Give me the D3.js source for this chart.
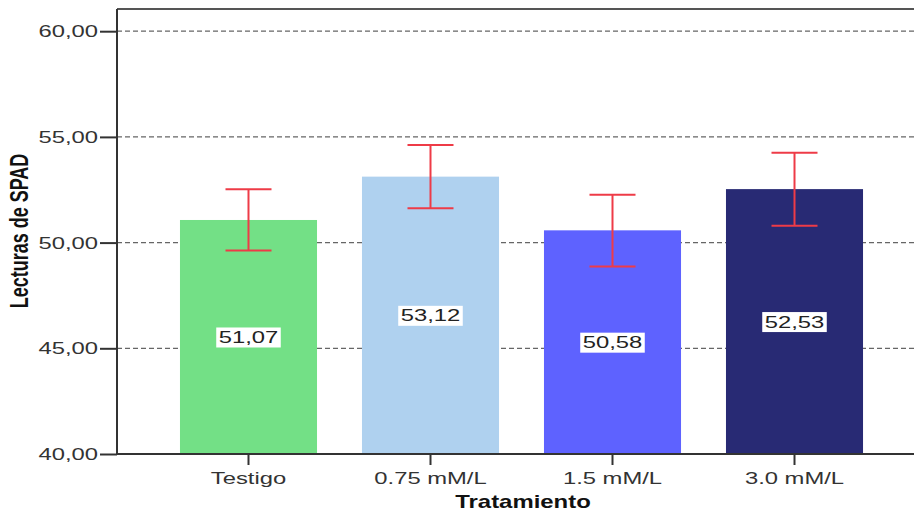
<!DOCTYPE html>
<html>
<head>
<meta charset="utf-8">
<script src="https://cdn.jsdelivr.net/npm/d3@7"></script>
<style>
  html, body { margin: 0; padding: 0; background: #fff; }
  svg { display: block; font-family: "Liberation Sans", Arial, sans-serif; }
</style>
</head>
<body>
<svg id="chart" width="914" height="513"></svg>
<script>
const categories = ["Testigo", "0.75 mM/L", "1.5 mM/L", "3.0 mM/L"];
const means = [51.07, 53.12, 50.58, 52.53];
const lowerCI = [49.63, 51.62, 48.87, 50.80];
const upperCI = [52.52, 54.62, 52.26, 54.25];
const barColors = ["#73E086", "#AFD1EF", "#5E62FF", "#282A74"];
const yTicks = [40, 45, 50, 55, 60];
const yDomain = [40, 61.05];
const yTitle = "Lecturas de SPAD";
const xTitle = "Tratamiento";

(function () {
const SX = 1.4; // horizontal stretch of the reference image text
const fmt = v => d3.format(".2f")(v).replace(".", ",");

const svg = d3.select("#chart");
const pLeft = 117, pRight = 926, pTop = 9, pBottom = 454;

const x = d3.scaleBand().domain(categories).range([pLeft, pRight])
  .paddingInner(0.247).paddingOuter(0.346);
const y = d3.scaleLinear().domain(yDomain).range([pBottom, pTop]);

// gridlines
svg.append("g").selectAll("line").data(yTicks.filter(t => t > 40)).join("line")
  .attr("x1", pLeft).attr("x2", 914)
  .attr("y1", d => y(d)).attr("y2", d => y(d))
  .attr("stroke", "#666").attr("stroke-width", 1.3)
  .attr("stroke-dasharray", "5,3");

// top border
svg.append("line").attr("x1", pLeft).attr("x2", 914).attr("y1", pTop).attr("y2", pTop)
  .attr("stroke", "#555").attr("stroke-width", 2);

// bars
svg.append("g").selectAll("rect").data(categories).join("rect")
  .attr("x", d => x(d)).attr("width", x.bandwidth())
  .attr("y", (d, i) => y(means[i]))
  .attr("height", (d, i) => pBottom - y(means[i]))
  .attr("fill", (d, i) => barColors[i]);

// error bars
const eb = svg.append("g").attr("stroke", "#EE3B47").attr("stroke-width", 2);
categories.forEach((c, i) => {
  const cx = x(c) + x.bandwidth() / 2;
  eb.append("line").attr("x1", cx).attr("x2", cx).attr("y1", y(upperCI[i])).attr("y2", y(lowerCI[i]));
  eb.append("line").attr("x1", cx - 23).attr("x2", cx + 23).attr("y1", y(upperCI[i])).attr("y2", y(upperCI[i]));
  eb.append("line").attr("x1", cx - 23).attr("x2", cx + 23).attr("y1", y(lowerCI[i])).attr("y2", y(lowerCI[i]));
});

// value labels
categories.forEach((c, i) => {
  const cx = x(c) + x.bandwidth() / 2;
  const cy = (y(means[i]) + pBottom) / 2;
  const g = svg.append("g").attr("transform", `translate(${cx},${cy})`);
  const rect = g.append("rect").attr("fill", "#fff");
  const t = g.append("text").attr("transform", `scale(${SX},1)`)
    .attr("text-anchor", "middle").attr("dy", "0.36em")
    .attr("font-size", 17).attr("fill", "#222").text(fmt(means[i]));
  const bb = t.node().getBBox();
  const w = bb.width * SX + 5, h = 20;
  rect.attr("x", -w / 2).attr("y", -h / 2 + 0.5).attr("width", w).attr("height", h);
});

// y axis
const yAxis = svg.append("g").attr("transform", `translate(${pLeft},0)`)
  .call(d3.axisLeft(y).tickValues(yTicks).tickSize(17).tickFormat(fmt));
yAxis.select(".domain").attr("d", `M0,${pTop}V${pBottom}`).attr("stroke", "#333").attr("stroke-width", 2);
yAxis.selectAll(".tick line").attr("stroke", "#333").attr("stroke-width", 2);
yAxis.selectAll(".tick text")
  .attr("x", -19 / SX).attr("transform", `scale(${SX},1)`)
  .attr("font-size", 17).attr("fill", "#333");

// x axis
const xAxis = svg.append("g").attr("transform", `translate(0,${pBottom})`)
  .call(d3.axisBottom(x).tickSize(11).tickSizeOuter(0));
xAxis.select(".domain").attr("d", `M${pLeft},0H914`).attr("stroke", "#333").attr("stroke-width", 2);
xAxis.selectAll(".tick line").attr("stroke", "#333").attr("stroke-width", 2);
xAxis.selectAll(".tick text")
  .attr("y", 30).attr("dy", 0).attr("transform", `scale(${SX},1)`)
  .attr("x", 0).attr("font-size", 17).attr("fill", "#333");

// axis titles
svg.append("text").attr("transform", `translate(523,508) scale(1.33,1)`)
  .attr("text-anchor", "middle").attr("font-size", 18).attr("font-weight", "bold")
  .attr("fill", "#111").text(xTitle);
svg.append("text").attr("transform", `translate(28,231) scale(${SX},1) rotate(-90)`)
  .attr("text-anchor", "middle").attr("font-size", 18).attr("font-weight", "bold")
  .attr("fill", "#111").text(yTitle);
})();
</script>
</body>
</html>
